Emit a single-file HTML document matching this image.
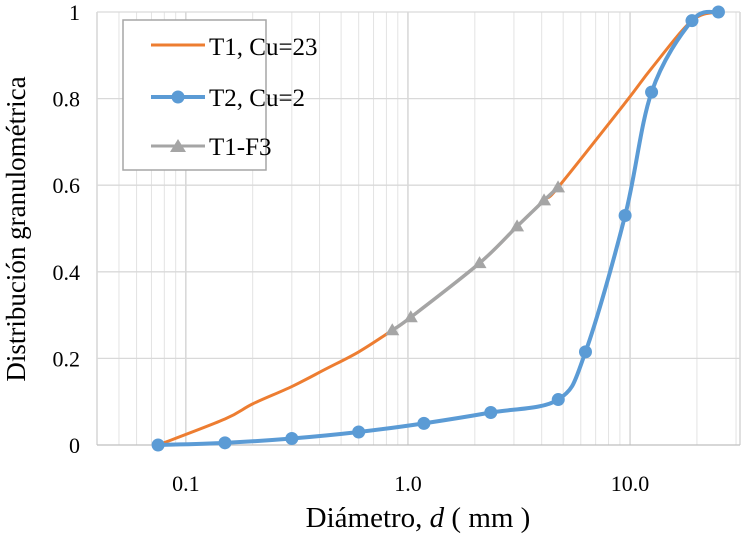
<!DOCTYPE html>
<html><head><meta charset="utf-8"><style>
html,body{margin:0;padding:0;background:#fff}
svg{display:block;font-family:"Liberation Serif",serif}
</style></head><body>
<svg id="chart" width="750" height="534" viewBox="0 0 750 534">
<g id="grid"></g>
<g id="axes"></g>
<g id="series"></g>
<text x="418" y="527" text-anchor="middle" font-size="29">Diámetro, <tspan font-style="italic">d</tspan>  ( mm )</text>
<text transform="translate(25,229) rotate(-90)" text-anchor="middle" font-size="27">Distribución granulométrica</text>
<g>
<rect x="123" y="20" width="143" height="150" fill="#fff" stroke="#a6a6a6" stroke-width="1.5"/>
<g><line x1="151" y1="45" x2="205" y2="45" stroke="#ed7d31" stroke-width="3"/><text x="209" y="55" font-size="25">T1, Cu=23</text></g>
<g><line x1="151" y1="97" x2="205" y2="97" stroke="#5b9bd5" stroke-width="4"/><circle cx="178" cy="97" r="6.5" fill="#5b9bd5"/><text x="209" y="106" font-size="25">T2, Cu=2</text></g>
<g><line x1="151" y1="146" x2="205" y2="146" stroke="#a5a5a5" stroke-width="3"/><polygon points="178,139 186,152 170,152" fill="#a5a5a5"/><text x="209" y="155" font-size="25">T1-F3</text></g>
</g>
</svg>
<script>
const t1X=[0.075,0.15,0.2,0.3,0.425,0.6,0.85,1.03,2.1,3.1,4.1,4.74,9.5,12.5,19,25];
const t1Y=[0,0.06,0.095,0.135,0.175,0.215,0.265,0.295,0.42,0.505,0.565,0.595,0.79,0.87,0.98,1];
const t2X=[0.075,0.15,0.3,0.6,1.18,2.36,4.75,6.3,9.5,12.5,19,25];
const t2Y=[0,0.005,0.015,0.03,0.05,0.075,0.105,0.215,0.53,0.815,0.98,1];
const f3X=[0.85,1.03,2.1,3.1,4.1,4.74];
const f3Y=[0.265,0.295,0.42,0.505,0.565,0.595];
const yTicks=[0,0.2,0.4,0.6,0.8,1];
const yTickLabels=["0","0.2","0.4","0.6","0.8","1"];
const xTicks=[0.1,1,10];
const xTickLabels=["0.1","1.0","10.0"];
const minorX=[0.05,0.06,0.07,0.08,0.09,0.2,0.3,0.4,0.5,0.6,0.7,0.8,0.9,2,3,4,5,6,7,8,9,20,30];
const L=97,R=740,T=12,B=445,lmin=-1.4,lmax=1.495;
const xs=v=>L+(Math.log10(v)-lmin)/(lmax-lmin)*(R-L);
const ys=v=>B-v*(B-T);
const NS="http://www.w3.org/2000/svg";
function mk(tag,attrs,parent){const e=document.createElementNS(NS,tag);for(const k in attrs)e.setAttribute(k,attrs[k]);parent.appendChild(e);return e;}
const grid=document.getElementById('grid'),axes=document.getElementById('axes'),ser=document.getElementById('series');
minorX.forEach(v=>{const l=mk('line',{x1:xs(v),x2:xs(v),y1:T,y2:B,stroke:'#e3e3e3','stroke-width':1},grid);

});
xTicks.forEach((v,i)=>{const l=mk('line',{x1:xs(v),x2:xs(v),y1:T,y2:B,stroke:'#d0d0d0','stroke-width':1.3},grid);


const t=mk('text',{x:xs(v),y:491,'text-anchor':'middle','font-size':22},axes);t.textContent=xTickLabels[i];

});
[L,R].forEach(x=>{const l=mk('line',{x1:x,x2:x,y1:T,y2:B,stroke:'#d0d0d0','stroke-width':1.3},grid);

});
yTicks.forEach((v,i)=>{const l=mk('line',{x1:L,x2:R,y1:ys(v),y2:ys(v),stroke:v===0?'#bfbfbf':'#d9d9d9','stroke-width':1.3},grid);


const t=mk('text',{x:80,y:ys(v)+8,'text-anchor':'end','font-size':22},axes);t.textContent=yTickLabels[i];

});
function path(X,Y){const p=X.map((x,i)=>[xs(x),ys(Y[i])]);let d='M'+p[0][0]+','+p[0][1];
for(let i=0;i<p.length-1;i++){const p0=p[Math.max(0,i-1)],p1=p[i],p2=p[i+1],p3=p[Math.min(p.length-1,i+2)];
const c1=[p1[0]+(p2[0]-p0[0])/6,p1[1]+(p2[1]-p0[1])/6],c2=[p2[0]-(p3[0]-p1[0])/6,p2[1]-(p3[1]-p1[1])/6];
d+=' C'+c1+' '+c2+' '+p2;}return d;}
const s1=mk('path',{d:path(t1X,t1Y),fill:'none',stroke:'#ed7d31','stroke-width':3},ser);


const s2=mk('path',{d:path(t2X,t2Y),fill:'none',stroke:'#5b9bd5','stroke-width':4},ser);


t2X.forEach((x,i)=>{const c=mk('circle',{cx:xs(x),cy:ys(t2Y[i]),r:6.5,fill:'#5b9bd5'},ser);

});
const s3=mk('path',{d:path(f3X,f3Y),fill:'none',stroke:'#a5a5a5','stroke-width':3.5},ser);


f3X.forEach((x,i)=>{const cx=xs(x),cy=ys(f3Y[i]);const p=mk('polygon',{points:`${cx},${cy-7} ${cx+7},${cy+5} ${cx-7},${cy+5}`,fill:'#a5a5a5'},ser);

});
</script>
</body></html>
